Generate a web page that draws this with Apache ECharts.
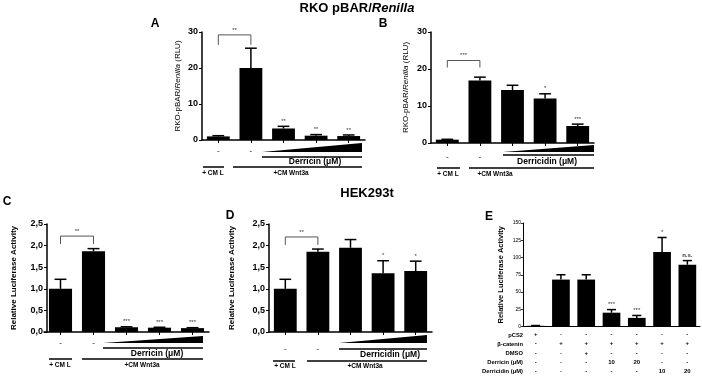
<!DOCTYPE html>
<html>
<head>
<meta charset="utf-8">
<script src="https://cdn.jsdelivr.net/npm/echarts@6/dist/echarts.min.js"></script>
<style>
  html, body { margin: 0; padding: 0; background: #fff; }
  #chart { width: 702px; height: 376px; }
</style>
</head>
<body>
<div id="chart"></div>
<script>
// 数据
const rkoLabels = ['-', '-', '', '', '']
const derricinRko = [1.0, 20.0, 3.2, 1.2, 1.1]
const derricinRkoErr = [0.2, 5.5, 0.6, 0.3, 0.3]
const derricinRkoSig = ['', '', '**', '**', '**']
const derricidinRko = [0.9, 16.9, 14.3, 12.0, 4.6]
const derricidinRkoErr = [0.1, 0.9, 1.3, 1.3, 0.5]
const derricidinRkoSig = ['', '', '', '*', '***']

const hekLabels = ['-', '-', '', '', '']
const derricinHek = [1.0, 1.87, 0.11, 0.10, 0.09]
const derricinHekErr = [0.22, 0.06, 0.01, 0.01, 0.01]
const derricinHekSig = ['', '', '***', '***', '***']
const derricidinHek = [1.0, 1.86, 1.95, 1.36, 1.41]
const derricidinHekErr = [0.22, 0.06, 0.19, 0.29, 0.23]
const derricidinHekSig = ['', '', '', '*', '*']

const tcfCats = ['1', '2', '3', '4', '5', '6', '7']
const tcfValues = [1, 68, 68, 20, 12.5, 108, 89.5]
const tcfErr = [0.4, 7, 7, 4.5, 3.5, 21, 6]
const tcfSig = ['', '', '', '***', '***', '*', 'n.s.']
const tcfRowNames = ['pCS2', 'β-catenin', 'DMSO', 'Derricin (μM)', 'Derricidin (μM)']
const tcfRows = [
  ['+', '-', '-', '-', '-', '-', '-'],
  ['-', '+', '+', '+', '+', '+', '+'],
  ['-', '-', '+', '-', '-', '-', '-'],
  ['-', '-', '-', '10', '20', '-', '-'],
  ['-', '-', '-', '-', '-', '10', '20']
]

// 显著性括号 (CM L vs Wnt3a)
const bracketRko1 = { from: 0, to: 1, at: 29.2, sig: '**' }
const bracketRko2 = { from: 0, to: 1, at: 22.3, sig: '***' }
const bracketHek1 = { from: 0, to: 1, at: 2.22, sig: '**' }
const bracketHek2 = { from: 0, to: 1, at: 2.2, sig: '**' }

const FONT = '"Liberation Sans", Arial, sans-serif'
const chart = echarts.init(document.getElementById('chart'))

function errorSeries(idx, values, errs, sigs, sigSize) {
  return {
    type: 'custom',
    xAxisIndex: idx,
    yAxisIndex: idx,
    z: 5,
    silent: true,
    data: values.map((v, i) => [i, v, errs[i]]),
    renderItem(params, api) {
      const i = api.value(0)
      const v = api.value(1)
      const e = api.value(2)
      const base = api.coord([i, v])
      const top = api.coord([i, v + e])
      const hw = api.size([1, 0])[0] * 0.18
      const children = [
        { type: 'line', shape: { x1: base[0], y1: base[1], x2: top[0], y2: top[1] }, style: { stroke: '#000', lineWidth: 1.5 } },
        { type: 'line', shape: { x1: top[0] - hw, y1: top[1], x2: top[0] + hw, y2: top[1] }, style: { stroke: '#000', lineWidth: 1.5 } }
      ]
      const s = sigs[params.dataIndex]
      if (s) {
        children.push({
          type: 'text',
          style: {
            x: top[0], y: top[1] - 2, text: s,
            font: (s === 'n.s.' ? 'bold ' : '') + sigSize + 'px ' + FONT,
            fill: '#333', textAlign: 'center', textVerticalAlign: 'bottom'
          }
        })
      }
      return { type: 'group', children }
    }
  }
}

function bracketSeries(idx, b, drop) {
  return {
    type: 'custom',
    xAxisIndex: idx,
    yAxisIndex: idx,
    z: 5,
    silent: true,
    data: [[b.from, b.to, b.at]],
    renderItem(params, api) {
      const p0 = api.coord([api.value(0), api.value(2)])
      const p1 = api.coord([api.value(1), api.value(2)])
      return {
        type: 'group',
        children: [
          { type: 'polyline', shape: { points: [[p0[0], p0[1] + drop], p0, p1, [p1[0], p1[1] + drop]] }, style: { stroke: '#555', lineWidth: 1, fill: null } },
          { type: 'text', style: { x: (p0[0] + p1[0]) / 2, y: p0[1] - 2, text: b.sig, font: '6px ' + FONT, fill: '#333', textAlign: 'center', textVerticalAlign: 'bottom' } }
        ]
      }
    }
  }
}

function barSeries(idx, values) {
  return {
    type: 'bar',
    xAxisIndex: idx,
    yAxisIndex: idx,
    data: values,
    barWidth: '70%',
    itemStyle: { color: '#000' },
    silent: true
  }
}

function catAxis(idx, data, margin, extra) {
  return Object.assign({
    type: 'category',
    gridIndex: idx,
    data: data,
    axisLine: { lineStyle: { color: '#000', width: 1.5 } },
    axisTick: { show: true, alignWithLabel: true, length: 3, lineStyle: { color: '#000', width: 1 } },
    axisLabel: { margin: margin, color: '#000', fontSize: 8, fontFamily: FONT, interval: 0 }
  }, extra || {})
}

function valAxis(idx, max, interval, name, nameGap, nameRich, extra) {
  return Object.assign({
    type: 'value',
    gridIndex: idx,
    min: 0,
    max: max,
    interval: interval,
    splitLine: { show: false },
    axisLine: { show: true, lineStyle: { color: '#000', width: 1.5 } },
    axisTick: { show: true, length: 3, lineStyle: { color: '#000', width: 1 } },
    axisLabel: { margin: 4, color: '#000', fontSize: 9, fontWeight: 'bold', fontFamily: FONT },
    name: name,
    nameLocation: 'middle',
    nameGap: nameGap,
    nameTextStyle: Object.assign({ color: '#000', fontSize: 8, fontFamily: FONT }, nameRich || {})
  }, extra || {})
}

const commaFmt = v => v.toFixed(1).replace('.', ',')
const rkoName = 'RKO-pBAR/{i|Renilla} (RLU)'
const rkoRich = { rich: { i: { fontStyle: 'italic', fontSize: 8, fontFamily: FONT, color: '#000' } } }
const hekName = 'Relative Luciferase Activity'

// 注释图形
function txt(x, y, text, size, bold, align) {
  return {
    type: 'text', x: x, y: y, silent: true,
    style: { text: text, font: (bold ? 'bold ' : '') + size + 'px ' + FONT, fill: '#000', textAlign: align || 'center', textVerticalAlign: 'middle' }
  }
}
function hline(x1, x2, y, w) {
  return { type: 'line', silent: true, shape: { x1: x1, y1: y, x2: x2, y2: y }, style: { stroke: '#000', lineWidth: w || 1.5 } }
}
function wedge(x1, x2, yb, yt) {
  return { type: 'polygon', silent: true, shape: { points: [[x1, yb], [x2, yb], [x2, yt]] }, style: { fill: '#000' } }
}
function doseBlock(w1, w2, yb, yt, lineY, label, labelX, labelY, cmY, cmL, wnt, cmTextY, cmLX, wntX) {
  return [
    wedge(w1, w2, yb, yt),
    hline(w1, w2, lineY),
    txt(labelX, labelY, label, 8.5, true),
    hline(cmL[0], cmL[1], cmY),
    hline(wnt[0], wnt[1], cmY),
    txt(cmLX, cmTextY, '+ CM L', 6.5, true),
    txt(wntX, cmTextY, '+CM Wnt3a', 6.5, true)
  ]
}

const graphics = [
  {
    type: 'text', x: 357, y: 8, silent: true,
    style: {
      text: '{a|RKO pBAR/}{b|Renilla}', textAlign: 'center', textVerticalAlign: 'middle',
      rich: {
        a: { font: 'bold 13px ' + FONT, fill: '#000' },
        b: { font: 'italic bold 13px ' + FONT, fill: '#000' }
      }
    }
  },
  txt(367, 193, 'HEK293t', 13, true),
  txt(155, 24, 'A', 12, true),
  txt(383, 24, 'B', 12, true),
  txt(7, 202, 'C', 12, true),
  txt(230, 216, 'D', 12, true),
  txt(489, 217, 'E', 12, true)
]
  .concat(doseBlock(262, 362, 152, 143, 157, 'Derricin (μM)', 315, 162, 167, [203, 224], [233, 362], 173, 213, 291))
  .concat(doseBlock(503, 594, 152, 145, 155, 'Derricidin (μM)', 547, 162, 168, [437, 460], [469, 594], 174, 448, 495))
  .concat(doseBlock(103, 203, 343, 336, 348, 'Derricin (μM)', 157, 353.5, 359, [49, 72], [82, 203], 365, 60, 142))
  .concat(doseBlock(339, 427, 343, 335, 349, 'Derricidin (μM)', 390, 354.5, 361, [273, 295], [307, 427], 366, 285, 365))
  .concat(tcfRowNames.map((n, r) => txt(523, 335 + r * 9.2, n, 5.8, true, 'right')))

chart.setOption({
  animation: false,
  grid: [
    { left: 202, top: 32, width: 163, height: 108 },
    { left: 431, top: 32, width: 163, height: 111 },
    { left: 44, top: 224, width: 165, height: 108 },
    { left: 269, top: 224, width: 163, height: 108 },
    { left: 523, top: 223, width: 177, height: 104 }
  ],
  xAxis: [
    catAxis(0, rkoLabels, 7),
    catAxis(1, rkoLabels, 10),
    catAxis(2, hekLabels, 7),
    catAxis(3, hekLabels, 13),
    catAxis(4, tcfCats, 3.5, {
      axisTick: { show: false },
      axisLine: { lineStyle: { color: '#000', width: 1 } },
      axisLabel: {
        margin: 3.5, color: '#000', fontSize: 6, fontWeight: 'bold', fontFamily: FONT, interval: 0, lineHeight: 9.2,
        formatter: (v, i) => tcfRows.map(r => r[i]).join('\n')
      }
    })
  ],
  yAxis: [
    valAxis(0, 30, 10, rkoName, 20, rkoRich),
    valAxis(1, 30, 10, rkoName, 21, rkoRich),
    valAxis(2, 2.5, 0.5, hekName, 29, { fontWeight: 'bold' }, {
      offset: -3,
      axisLabel: { margin: 4, color: '#000', fontSize: 9, fontWeight: 'bold', fontFamily: FONT, formatter: commaFmt }
    }),
    valAxis(3, 2.5, 0.5, hekName, 33, { fontWeight: 'bold' }, {
      axisLabel: { margin: 4, color: '#000', fontSize: 9, fontWeight: 'bold', fontFamily: FONT, formatter: commaFmt }
    }),
    valAxis(4, 150, 25, hekName, 18, { fontWeight: 'bold', fontSize: 7.5 }, {
      axisLine: { show: true, lineStyle: { color: '#000', width: 1 } },
      axisTick: { show: true, length: 2, lineStyle: { color: '#000', width: 0.8 } },
      axisLabel: { margin: 2, color: '#000', fontSize: 5, fontFamily: FONT }
    })
  ],
  series: [
    barSeries(0, derricinRko),
    errorSeries(0, derricinRko, derricinRkoErr, derricinRkoSig, 6),
    bracketSeries(0, bracketRko1, 10),
    barSeries(1, derricidinRko),
    errorSeries(1, derricidinRko, derricidinRkoErr, derricidinRkoSig, 6),
    bracketSeries(1, bracketRko2, 7),
    barSeries(2, derricinHek),
    errorSeries(2, derricinHek, derricinHekErr, derricinHekSig, 6),
    bracketSeries(2, bracketHek1, 8),
    barSeries(3, derricidinHek),
    errorSeries(3, derricidinHek, derricidinHekErr, derricidinHekSig, 6),
    bracketSeries(3, bracketHek2, 8),
    barSeries(4, tcfValues),
    errorSeries(4, tcfValues, tcfErr, tcfSig, 6)
  ],
  graphic: graphics
})
</script>
</body>
</html>
